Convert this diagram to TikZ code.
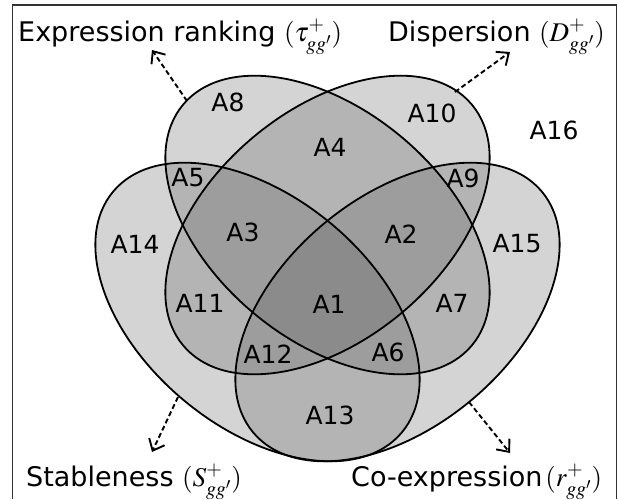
\documentclass[tikz,border=0pt]{standalone}
\usepackage{mathptmx}
\usepackage{fontspec}
\setmainfont{DejaVu Sans}
\usetikzlibrary{arrows.meta}
\begin{document}
\begin{tikzpicture}[x=1pt,y=-1pt,
  setfill/.style={fill=black!65,fill opacity=0.26},
  setline/.style={draw=black,line width=1.8pt},
  region/.style={font=\fontsize{25}{25}\selectfont,inner sep=0pt},
  title/.style={font=\fontsize{27}{27}\selectfont,inner sep=0pt,anchor=base west},
  pointer/.style={line width=1.9pt,dash pattern=on 5pt off 3pt,
    -{Straight Barb[length=10pt,width=17pt,line width=1.9pt]}},
  frameline/.style={draw=black!80,line width=1.8pt}]
\useasboundingbox (0,0) rectangle (618,499);
% frame
\draw[frameline] (12.5,499) -- (12.5,5) -- (616.5,5) -- (616.5,499);
% ellipse centres
\coordinate (cT) at (327.5,225);
\coordinate (cD) at (327.5,225);
\coordinate (cS) at (257.5,312);
\coordinate (cR) at (397.5,312);
% fills
\path[setfill,rotate around={-39.8:(cT)}] (cT) ellipse [x radius=188,y radius=115];
\path[setfill,rotate around={39.8:(cD)}] (cD) ellipse [x radius=188,y radius=115];
\path[setfill,rotate around={-39.8:(cS)}] (cS) ellipse [x radius=188,y radius=115];
\path[setfill,rotate around={39.8:(cR)}] (cR) ellipse [x radius=188,y radius=115];
% outlines
\draw[setline,rotate around={-39.8:(cT)}] (cT) ellipse [x radius=188,y radius=115];
\draw[setline,rotate around={39.8:(cD)}] (cD) ellipse [x radius=188,y radius=115];
\draw[setline,rotate around={-39.8:(cS)}] (cS) ellipse [x radius=188,y radius=115];
\draw[setline,rotate around={39.8:(cR)}] (cR) ellipse [x radius=188,y radius=115];
% region labels
\node[region] (nA1) at (329,304) {A1};
\node[region] (nA2) at (401,234) {A2};
\node[region] (nA3) at (243,232) {A3};
\node[region] (nA4) at (330,147) {A4};
\node[region] (nA5) at (188,178) {A5};
\node[region] (nA6) at (388,352) {A6};
\node[region] (nA7) at (452,303) {A7};
\node[region] (nA8) at (228,102) {A8};
\node[region] (nA9) at (463,178) {A9};
\node[region] (nA10) at (432,113) {A10};
\node[region] (nA11) at (200,303) {A11};
\node[region] (nA12) at (268,354) {A12};
\node[region] (nA13) at (330,415) {A13};
\node[region] (nA14) at (135,244) {A14};
\node[region] (nA15) at (517,244) {A15};
\node[region] (nA16) at (554,130) {A16};
% titles
\node[title] (tTau) at (18,41) {Expression ranking $(\tau^{+}_{gg'})$};
\node[title] (tD) at (388,41) {Dispersion $(D^{+}_{gg'})$};
\node[title] (tS) at (26,486) {Stableness $(S^{+}_{gg'})$};
\node[title] (tR) at (351,486) {Co-expression$\,(r^{+}_{gg'})$};
% pointers
\coordinate (pTau) at (187,101);
\coordinate (eTau) at (152,50);
\coordinate (pD) at (455,92);
\coordinate (eD) at (510,52);
\coordinate (pS) at (178,397);
\coordinate (eS) at (152,452);
\coordinate (pR) at (469,402);
\coordinate (eR) at (510,453);
\draw[pointer] (pTau) -- (eTau);
\draw[pointer] (pD) -- (eD);
\draw[pointer] (pS) -- (eS);
\draw[pointer] (pR) -- (eR);
\end{tikzpicture}
\end{document}
